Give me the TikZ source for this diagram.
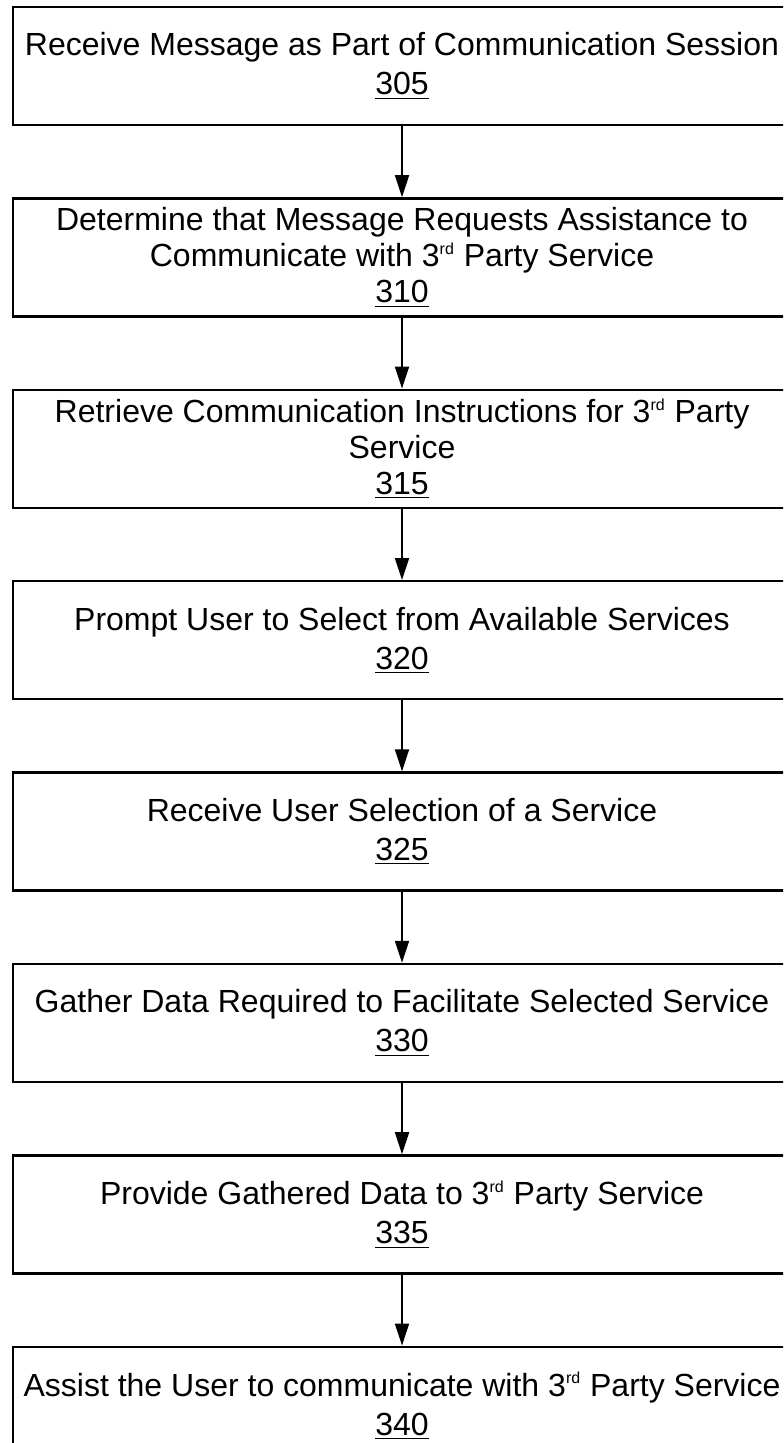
\documentclass[tikz,border=0pt]{standalone}
\usepackage{fontspec}
\setmainfont{Liberation Sans}
\usepackage{tikz}
\usetikzlibrary{shapes,arrows,positioning,calc,arrows.meta}

\newcommand{\rdsup}{\textsuperscript{\fontsize{8}{8}\selectfont rd}}

\begin{document}
\begin{tikzpicture}[x=0.5pt, y=-0.5pt, node distance=35.5pt,
        stepbox/.style={rectangle, draw, line width=1.2pt, minimum width=389pt, minimum height=59pt, inner xsep=2pt, inner ysep=0.5pt, align=center, font=\fontsize{16}{19.5}\selectfont},
        tallbox/.style={stepbox, font=\fontsize{16}{18}\selectfont},
        line/.style={draw, -{Triangle[length=11pt,width=7pt]}, line width=0.9pt}]

        \clip (0,0) rectangle (783,1443);

        \node [stepbox] at (402,66) (s305) {Receive Message as Part of Communication Session\\\underline{305}};
        \node [tallbox, below=of s305] (s310) {Determine that Message Requests Assistance to\\Communicate with 3\rdsup{} Party Service\\\underline{310}};
        \node [tallbox, below=of s310] (s315) {Retrieve Communication Instructions for 3\rdsup{} Party\\Service\\\underline{315}};
        \node [stepbox, below=of s315] (s320) {Prompt User to Select from Available Services\\\underline{320}};
        \node [stepbox, below=of s320] (s325) {Receive User Selection of a Service\\\underline{325}};
        \node [stepbox, below=of s325] (s330) {Gather Data Required to Facilitate Selected Service\\\underline{330}};
        \node [stepbox, below=of s330] (s335) {Provide Gathered Data to 3\rdsup{} Party Service\\\underline{335}};
        \node [stepbox, below=of s335] (s340) {Assist the User to communicate with 3\rdsup{} Party Service\\\underline{340}};

        \path [line] (s305) -- (s310);
        \path [line] (s310) -- (s315);
        \path [line] (s315) -- (s320);
        \path [line] (s320) -- (s325);
        \path [line] (s325) -- (s330);
        \path [line] (s330) -- (s335);
        \path [line] (s335) -- (s340);
\end{tikzpicture}
\end{document}
